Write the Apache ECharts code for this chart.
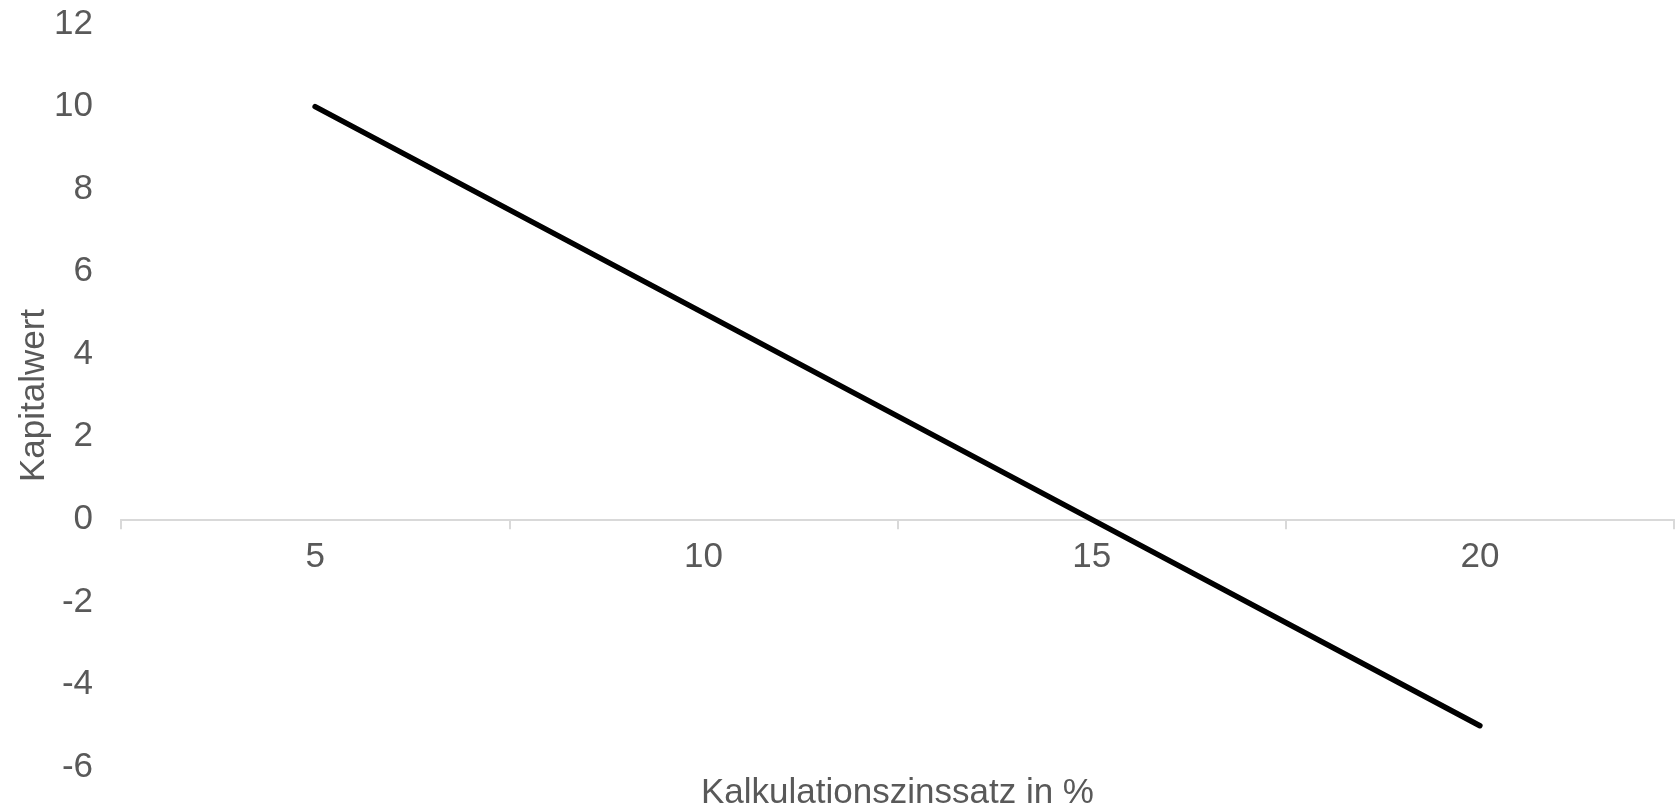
<!DOCTYPE html>
<html>
<head>
<meta charset="utf-8">
<script src="https://cdn.jsdelivr.net/npm/echarts@6/dist/echarts.min.js"></script>
<style>
html,body{margin:0;padding:0;background:#fff;}
#chart{width:1679px;height:807px;}
</style>
</head>
<body>
<div id="chart"></div>
<script>
const categories = ['5', '10', '15', '20'];
const kapitalwert = [10, 5, 0, -5];
const yTicks = { min: -6, max: 12, interval: 2 };
const xAxisName = 'Kalkulationszinssatz in %';
const yAxisName = 'Kapitalwert';

const chart = echarts.init(document.getElementById('chart'), null, { renderer: 'canvas' });
const textColor = '#595959';
const font = 'Liberation Sans, Arial, sans-serif';
const fs = 35;
const gridTop = 24, gridBottom = 40, H = 807;
const plotH = H - gridTop - gridBottom;
const zeroY = gridTop + plotH * (yTicks.max - 0) / (yTicks.max - yTicks.min);
const xOffset = -((H - gridBottom) - zeroY);
chart.setOption({
  animation: false,
  backgroundColor: '#ffffff',
  grid: { left: 121, right: 5, top: gridTop, bottom: gridBottom, containLabel: false, outerBoundsMode: 'none' },
  xAxis: {
    type: 'category',
    data: categories,
    boundaryGap: true,
    position: 'bottom',
    offset: xOffset,
    name: xAxisName,
    nameLocation: 'middle',
    nameGap: 257,
    nameTextStyle: { color: textColor, fontSize: fs, fontFamily: font },
    axisLine: { onZero: false, lineStyle: { color: '#d9d9d9', width: 2 } },
    axisTick: { show: true, length: 10, lineStyle: { color: '#d9d9d9', width: 2 } },
    axisLabel: { color: textColor, fontSize: fs, fontFamily: font, margin: 21 },
    splitLine: { show: false }
  },
  yAxis: {
    type: 'value',
    min: yTicks.min,
    max: yTicks.max,
    interval: yTicks.interval,
    name: yAxisName,
    nameLocation: 'middle',
    nameGap: 69,
    nameMoveOverlap: false,
    nameTextStyle: { color: textColor, fontSize: fs, fontFamily: font },
    axisLine: { show: false },
    axisTick: { show: false },
    splitLine: { show: false },
    axisLabel: { color: textColor, fontSize: fs, fontFamily: font, margin: 28 }
  },
  series: [{
    type: 'line',
    data: kapitalwert,
    symbol: 'none',
    lineStyle: { color: '#000000', width: 5.5, cap: 'round' },
    itemStyle: { color: '#000000' }
  }]
});
</script>
</body>
</html>
